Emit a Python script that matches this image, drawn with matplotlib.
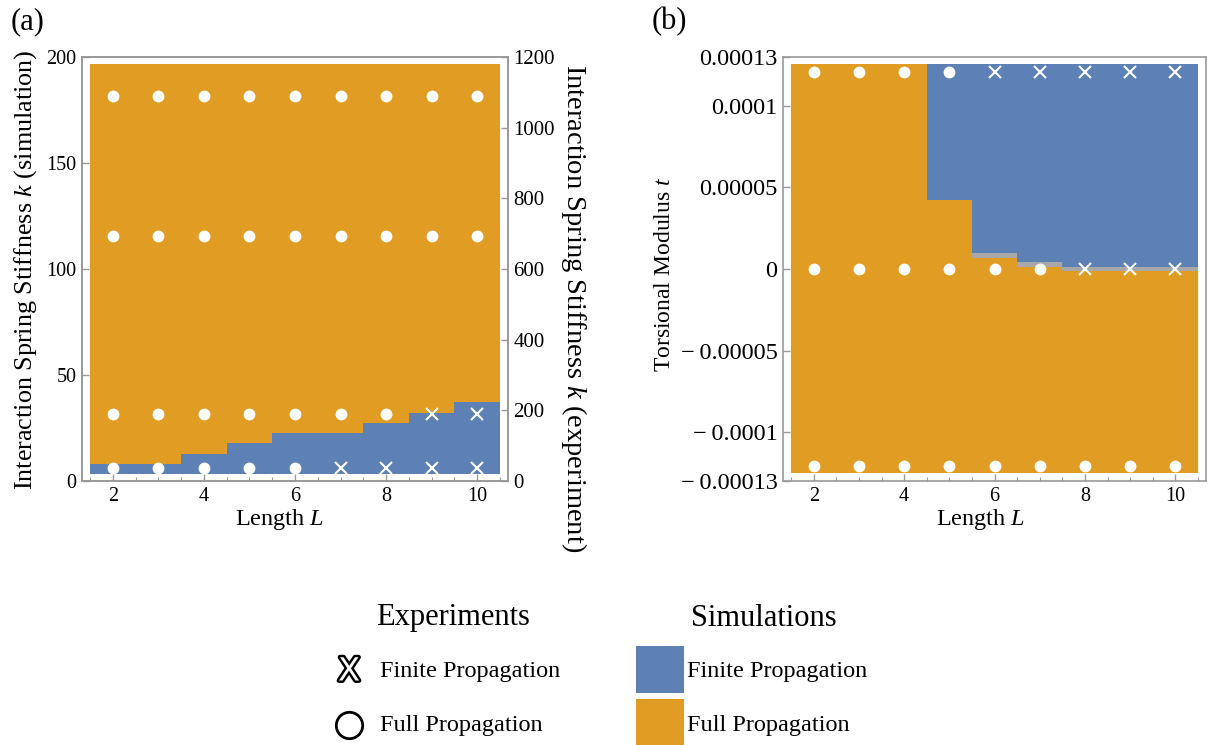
import numpy as np
import matplotlib.pyplot as plt
import matplotlib.patheffects as pe
from matplotlib.patches import Rectangle
from matplotlib.ticker import MultipleLocator

plt.rcParams['font.family'] = 'Liberation Serif'
plt.rcParams['mathtext.fontset'] = 'custom'
plt.rcParams['mathtext.rm'] = 'Liberation Serif'
plt.rcParams['mathtext.it'] = 'Liberation Serif:italic'

orange = '#E19C24'
blue = '#5E81B5'
gray = '#A8A8A8'
frame = '#999999'

# ---- data ----
lengths = [2, 3, 4, 5, 6, 7, 8, 9, 10]

# (a) simulation: finite propagation below this stiffness
k_sim_range = (3.5, 196.5)
k_finite_top = [7.8, 7.8, 12.7, 17.8, 22.5, 22.5, 27.3, 32.2, 37.1]
# (a) experiments, stiffness in experiment units (right axis)
k_exp_rows = [37, 190, 693, 1090]
k_exp_outcome = ['oooooxxxx', 'oooooooxx', 'ooooooooo', 'ooooooooo']
k_exp_ticks = [0, 200, 400, 600, 800, 1000, 1200]

# (b) simulation: finite propagation above t_finite_bottom, full below t_full_top
t_sim_range = (-1.25e-4, 1.26e-4)
t_finite_bottom = [1.26e-4, 1.26e-4, 1.26e-4, 4.2e-5, 9.8e-6, 4.1e-6, 1.2e-6, 1.2e-6, 1.2e-6]
t_full_top = [1.26e-4, 1.26e-4, 1.26e-4, 4.2e-5, 7.0e-6, 1.4e-6, -1.2e-6, -1.2e-6, -1.2e-6]
t_exp_rows = [1.21e-4, 0, -1.21e-4]
t_exp_outcome = ['ooooxxxxx', 'ooooooxxx', 'ooooooooo']
t_ticks = [-0.00013, -0.0001, -0.00005, 0, 0.00005, 0.0001, 0.00013]
t_ticklabels = ['\u2212\u20090.00013', '\u2212\u20090.0001', '\u2212\u20090.00005', '0',
                '0.00005', '0.0001', '0.00013']


def style(ax, size):
    for s in ax.spines.values():
        s.set_color(frame)
        s.set_linewidth(1.2)
    ax.tick_params(direction='in', color=frame, labelsize=size, length=5, width=1, pad=4)
    ax.tick_params(which='minor', direction='in', color=frame, length=3, width=0.8)


def experiments(ax, rows, outcomes):
    for y, row in zip(rows, outcomes):
        xo = [L for L, c in zip(lengths, row) if c == 'o']
        xx = [L for L, c in zip(lengths, row) if c == 'x']
        ax.plot(xo, [y] * len(xo), 'o', ms=8.5, color='white', mec='none', zorder=5)
        ax.plot(xx, [y] * len(xx), 'x', ms=8, color='white', mew=1.5, zorder=5)


fig = plt.figure(figsize=(12.11, 7.45), dpi=100)
edges = np.arange(lengths[0] - 0.5, lengths[-1] + 1)

# ---- (a) ----
ax1 = fig.add_axes([0.0677, 0.3544, 0.3518, 0.5691])
ax1.fill_between([edges[0], edges[-1]], k_sim_range[0], k_sim_range[1], color=orange, lw=0)
ax1.fill_between(edges, k_sim_range[0], np.append(k_finite_top, k_finite_top[-1]),
                 step='post', color=blue, lw=0)
ax1.set_xlim(1.32, 10.68)
ax1.set_ylim(0, 200)
ax1.set_xticks([2, 4, 6, 8, 10])
ax1.xaxis.set_minor_locator(MultipleLocator(0.5))
ax1.set_yticks([0, 50, 100, 150, 200])
style(ax1, 14.5)

ax1b = ax1.twinx()
ax1b.set_ylim(0, 1200)
ax1b.set_yticks(k_exp_ticks)
style(ax1b, 15)
experiments(ax1b, k_exp_rows, k_exp_outcome)

# ---- (b) ----
ax2 = fig.add_axes([0.6466, 0.3544, 0.3493, 0.5691])
ax2.fill_between([edges[0], edges[-1]], t_sim_range[0], t_sim_range[1], color=orange, lw=0)
ax2.fill_between(edges, np.append(t_full_top, t_full_top[-1]),
                 np.append(t_finite_bottom, t_finite_bottom[-1]),
                 step='post', color=gray, lw=0)
ax2.fill_between(edges, np.append(t_finite_bottom, t_finite_bottom[-1]), t_sim_range[1],
                 step='post', color=blue, lw=0)
experiments(ax2, t_exp_rows, t_exp_outcome)
ax2.set_xlim(1.32, 10.68)
ax2.set_ylim(-0.00013, 0.00013)
ax2.set_xticks([2, 4, 6, 8, 10])
ax2.xaxis.set_minor_locator(MultipleLocator(0.5))
ax2.set_yticks(t_ticks)
ax2.set_yticklabels(t_ticklabels)
style(ax2, 17.5)
ax2.tick_params(axis='x', labelsize=14.5)

# ---- labels and legend in pixel coordinates ----
ov = fig.add_axes([0, 0, 1, 1])
ov.set_xlim(0, 1211)
ov.set_ylim(745, 0)
ov.axis('off')

ov.text(28, 22, '(a)', fontsize=22, ha='center', va='center')
ov.text(669, 22, '(b)', fontsize=22, ha='center', va='center')
ov.text(280, 519, 'Length $L$', fontsize=17.5, ha='center', va='center')
ov.text(981, 519, 'Length $L$', fontsize=17.5, ha='center', va='center')
ov.text(26, 270, 'Interaction Spring Stiffness $k$ (simulation)', fontsize=18.8,
        rotation=90, ha='center', va='center')
ov.text(574, 308, 'Interaction Spring Stiffness $k$ (experiment)', fontsize=20.5,
        rotation=-90, ha='center', va='center')
ov.text(664, 274, 'Torsional Modulus $t$', fontsize=17, rotation=90,
        ha='center', va='center')

ov.text(453, 618, 'Experiments', fontsize=22, ha='center', va='center')
ov.text(764, 618, 'Simulations', fontsize=22, ha='center', va='center')

ov.text(349, 672, 'X', family='DejaVu Sans', fontsize=23, color='white',
        ha='center', va='center',
        path_effects=[pe.withStroke(linewidth=3.5, foreground='black')])
ov.plot(349, 725, 'o', ms=19, mfc='white', mec='black', mew=2)
ov.text(380, 672, 'Finite Propagation', fontsize=17.5, ha='left', va='center')
ov.text(380, 725, 'Full Propagation', fontsize=17.5, ha='left', va='center')

ov.add_patch(Rectangle((636, 646), 48, 47, color=blue, lw=0))
ov.add_patch(Rectangle((636, 699), 48, 47, color=orange, lw=0))
ov.text(687, 672, 'Finite Propagation', fontsize=17.5, ha='left', va='center')
ov.text(687, 725, 'Full Propagation', fontsize=17.5, ha='left', va='center')

fig.savefig('out.png', dpi=100)
